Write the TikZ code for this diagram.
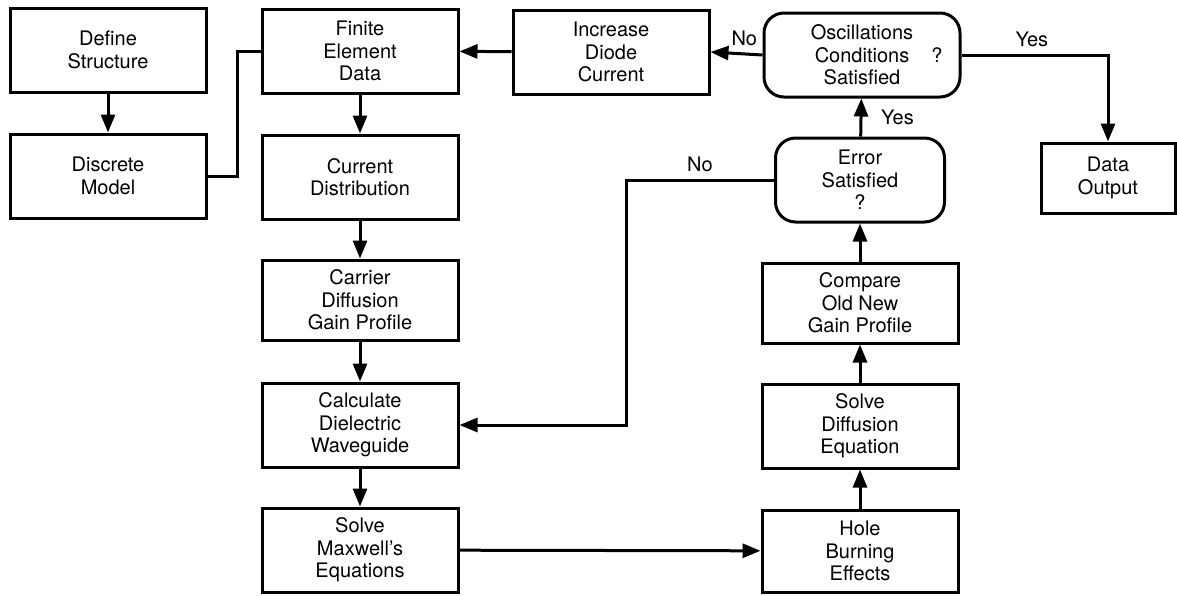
\documentclass[tikz,border=0pt]{standalone}
\usepackage{fontspec}
\setmainfont{TeX Gyre Heros}
\usetikzlibrary{positioning,arrows.meta}
\newcommand*{\txt}{\fontsize{10}{11.2}\selectfont}

\tikzset{
  box/.style={draw,line width=1.5pt,minimum width=98pt,minimum height=42pt,
              align=center,inner sep=2pt,font=\txt},
  test/.style={box,rounded corners=10pt},
  flow/.style={line width=1.5pt,-{Triangle[length=9pt,width=7pt]}},
  link/.style={line width=1.5pt},
  tag/.style={font=\txt}
}

\begin{document}
\begin{tikzpicture}[x=0.5pt,y=-0.5pt]
\useasboundingbox (0,0) rectangle (1177,595);
% Structure and model on the left
\node[box] (def) at (108,50) {Define\\Structure};
\node[box] (disc) at (108,176) {Discrete\\Model};
% Main column going down
\node[box] (fem) at (360,51) {Finite\\Element\\Data};
\node[box] (cur) at (360,177) {Current\\Distribution};
\node[box,minimum height=40pt] (carr) at (360,300) {Carrier\\Diffusion\\Gain Profile};
\node[box] (calc) at (360,425) {Calculate\\Dielectric\\Waveguide};
\node[box] (maxw) at (360,550) {Solve\\Maxwell's\\Equations};
% Column going back up
\node[box,minimum height=41pt] (hole) at (860,551) {Hole\\Burning\\Effects};
\node[box] (diff) at (860,426) {Solve\\Diffusion\\Equation};
\node[box,minimum height=40pt] (comp) at (860,303) {Compare\\Old New\\Gain Profile};
\node[test,minimum width=84.5pt] (err) at (860,180) {Error\\Satisfied\\?};
\node[test] (osc) at (862,55) {Oscillations\\Conditions\\Satisfied};
\node[tag,anchor=east] at ([xshift=-6pt]osc.east) {?};
%% Top row and output
\node[box] (inc) at (611,52) {Increase\\Diode\\Current};
\node[box,minimum width=67pt,minimum height=35pt] (out) at (1108,178) {Data\\Output};
%% Connectors
\draw[flow] (def) -- (disc);
\draw[link] (disc.east) -- ++(30,0) |- (fem.west);
\draw[flow] (fem) -- (cur);
\draw[flow] (cur) -- (carr);
\draw[flow] (carr) -- (calc);
\draw[flow] (calc) -- (maxw);
\draw[flow] (maxw) -- (hole);
\draw[flow] (hole) -- (diff);
\draw[flow] (diff) -- (comp);
\draw[flow] (comp) -- (err);
\draw[flow] (err) -- node[tag,right=6pt]{Yes} (osc);
\draw[flow] (err.west) -- node[tag,above]{No} ++(-148,0) |- (calc.east);
\draw[flow] (osc.west) -- node[tag,above,pos=0.35]{No} (inc.east);
\draw[flow] (inc) -- (fem);
\draw[flow] (osc.east) -| node[tag,above,pos=0.24]{Yes} (out.north);
\end{tikzpicture}
\end{document}
